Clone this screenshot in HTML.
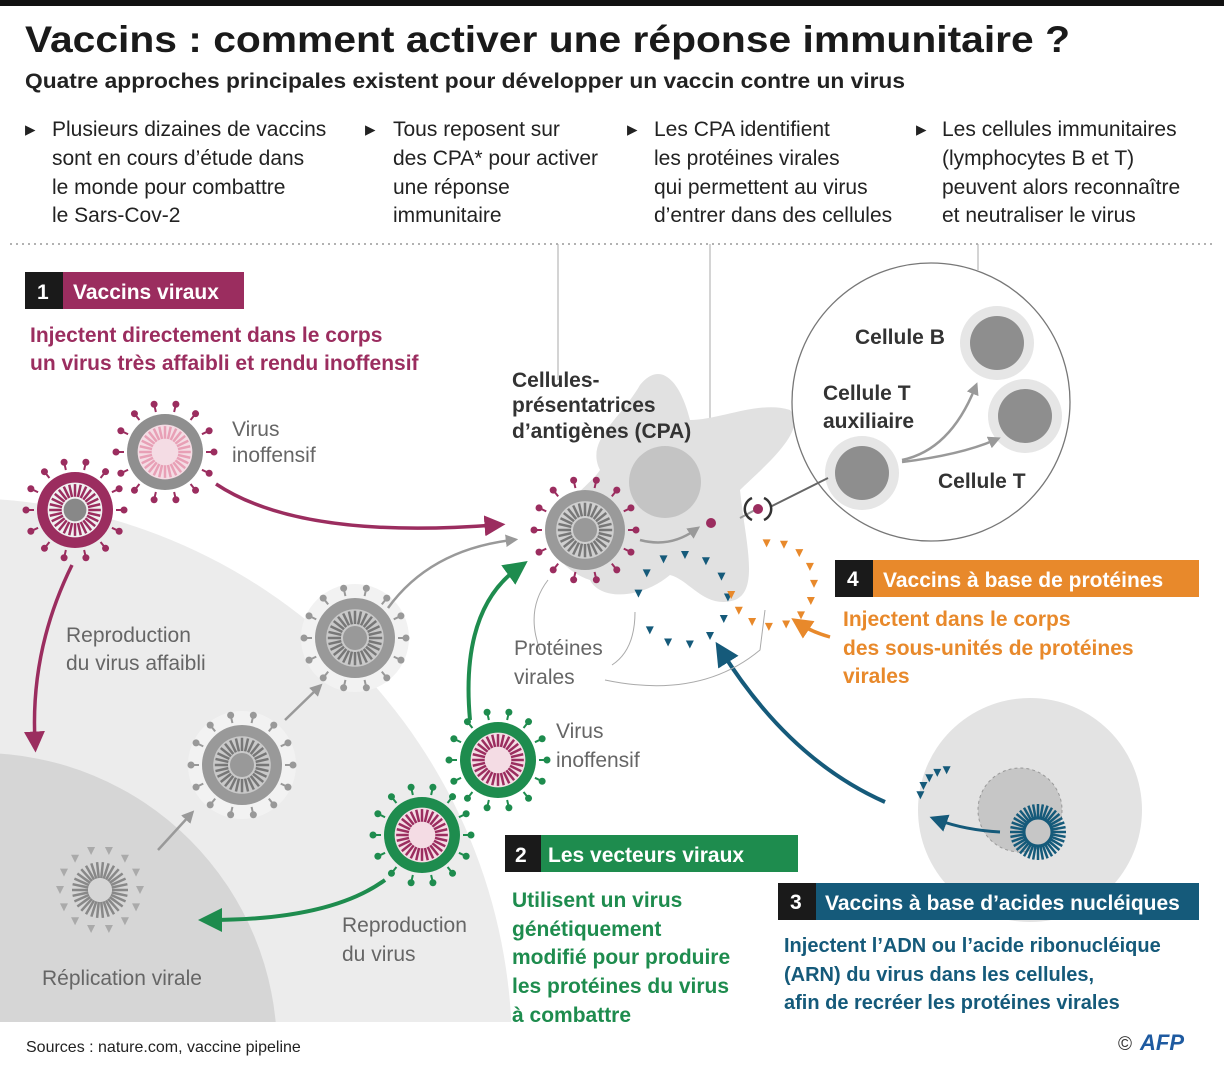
<!DOCTYPE html>
<html><head><meta charset="utf-8"><style>
html,body{margin:0;width:1224px;height:1076px;overflow:hidden;background:#fff;font-family:"Liberation Sans",sans-serif;}
svg{position:absolute;left:0;top:0;display:block}
svg text{font-family:"Liberation Sans",sans-serif}
</style></head><body>
<svg id="s" width="1224" height="1076" viewBox="0 0 1224 1076" xmlns="http://www.w3.org/2000/svg">
<defs>
<marker id="am" markerWidth="6" markerHeight="6" refX="3" refY="3" orient="auto"><path d="M0,0 L6,3 L0,6z" fill="#9b2d5f"/></marker>
<marker id="ag" markerWidth="6" markerHeight="6" refX="3" refY="3" orient="auto"><path d="M0,0 L6,3 L0,6z" fill="#1e8c4e"/></marker>
<marker id="ab" markerWidth="6" markerHeight="6" refX="3" refY="3" orient="auto"><path d="M0,0 L6,3 L0,6z" fill="#155a7a"/></marker>
<marker id="ao" markerWidth="6" markerHeight="6" refX="3" refY="3" orient="auto"><path d="M0,0 L6,3 L0,6z" fill="#e8892b"/></marker>
<marker id="ay" markerWidth="5" markerHeight="5" refX="2.5" refY="2.5" orient="auto"><path d="M0,0 L5,2.5 L0,5z" fill="#999"/></marker>
</defs>
<rect x="0" y="0" width="1224" height="6" fill="#111"/>
<text x="25" y="52" font-size="37" font-weight="bold" fill="#1a1a1a" textLength="1045" lengthAdjust="spacingAndGlyphs">Vaccins : comment activer une réponse immunitaire ?</text>
<text x="25" y="88" font-size="21" font-weight="bold" fill="#222" textLength="880" lengthAdjust="spacingAndGlyphs">Quatre approches principales existent pour développer un vaccin contre un virus</text>
<g font-size="21" fill="#222">
<text x="25" y="136">▸</text><text x="52" y="136">Plusieurs dizaines de vaccins</text><text x="52" y="165">sont  en cours d’étude dans</text><text x="52" y="194">le monde pour combattre</text><text x="52" y="222">le Sars-Cov-2</text>
<text x="365" y="136">▸</text><text x="393" y="136">Tous reposent sur</text><text x="393" y="165">des CPA* pour activer</text><text x="393" y="194">une réponse</text><text x="393" y="222">immunitaire</text>
<text x="627" y="136">▸</text><text x="654" y="136">Les CPA identifient</text><text x="654" y="165">les protéines virales</text><text x="654" y="194">qui permettent au virus</text><text x="654" y="222">d’entrer dans des cellules</text>
<text x="916" y="136">▸</text><text x="942" y="136">Les cellules immunitaires</text><text x="942" y="165">(lymphocytes B et T)</text><text x="942" y="194">peuvent alors reconnaître</text><text x="942" y="222">et neutraliser le virus</text>
</g>
<line x1="10" y1="244" x2="1214" y2="244" stroke="#999" stroke-width="1.5" stroke-dasharray="2,4"/>
<circle cx="-40" cy="1050" r="552" fill="#ececec"/>
<circle cx="-20" cy="1050" r="297" fill="#d6d6d6"/>
<rect x="0" y="1022" width="1224" height="54" fill="#fff"/>
<line x1="558" y1="244" x2="558" y2="380" stroke="#aaa"/>
<line x1="710" y1="244" x2="710" y2="520" stroke="#aaa"/>
<line x1="978" y1="244" x2="978" y2="270" stroke="#aaa"/>
<path d="M600,470 C585,440 620,420 640,385 C660,360 680,380 690,420 C720,420 760,400 790,410 C810,430 760,470 740,490 C745,540 760,590 735,600 C705,610 690,580 670,575 C640,600 600,600 590,580 C560,570 540,540 560,520 C570,495 590,485 600,470z" fill="#e1e1e1"/>
<circle cx="665" cy="482" r="36" fill="#c4c4c4"/>
<circle cx="931" cy="402" r="139" fill="#fff" stroke="#777" stroke-width="1.3"/>
<circle cx="1030" cy="810" r="112" fill="#e3e3e3"/>
<circle cx="1020" cy="810" r="42" fill="#c6c6c6" stroke="#999" stroke-dasharray="3,3"/>
<g id="viruses"></g>
<g>
<circle cx="997" cy="343" r="37" fill="#e6e6e6"/><circle cx="997" cy="343" r="27" fill="#8e8e8e"/>
<circle cx="1025" cy="416" r="37" fill="#e6e6e6"/><circle cx="1025" cy="416" r="27" fill="#8e8e8e"/>
<circle cx="862" cy="473" r="37" fill="#e6e6e6"/><circle cx="862" cy="473" r="27" fill="#8e8e8e"/>
</g>
<path d="M902,460 Q950,450 975,388" fill="none" stroke="#999" stroke-width="2.5" marker-end="url(#ay)"/>
<path d="M902,462 Q960,455 995,440" fill="none" stroke="#999" stroke-width="2.5" marker-end="url(#ay)"/>
<line x1="770" y1="507" x2="828" y2="478" stroke="#666" stroke-width="2"/>
<line x1="740" y1="518" x2="755" y2="510" stroke="#999" stroke-width="2"/>
<path d="M752,498 a12,12 0 0 0 0,22 M764,498 a12,12 0 0 1 0,22" fill="none" stroke="#333" stroke-width="2.5"/>
<circle cx="758" cy="509" r="5" fill="#9b2d5f"/>
<circle cx="711" cy="523" r="5" fill="#9b2d5f"/>
<path d="M640,540 Q670,548 695,530" fill="none" stroke="#999" stroke-width="2.5" marker-end="url(#ay)"/>
<g font-size="21" font-weight="bold" fill="#333">
<text x="512" y="387">Cellules-</text><text x="512" y="412">présentatrices</text><text x="512" y="438">d’antigènes (CPA)</text>
<text x="855" y="344">Cellule B</text>
<text x="823" y="400">Cellule T</text><text x="823" y="428">auxiliaire</text>
<text x="938" y="488">Cellule T</text>
</g>
<path d="M216,484 Q300,540 495,525" fill="none" stroke="#9b2d5f" stroke-width="3.5" marker-end="url(#am)"/>
<path d="M72,565 Q30,650 35,742" fill="none" stroke="#9b2d5f" stroke-width="3.5" marker-end="url(#am)"/>
<path d="M388,608 Q430,550 512,540" fill="none" stroke="#999" stroke-width="2.5" marker-end="url(#ay)"/>
<line x1="285" y1="720" x2="318" y2="688" stroke="#999" stroke-width="2.5" marker-end="url(#ay)"/>
<line x1="158" y1="850" x2="190" y2="815" stroke="#999" stroke-width="2.5" marker-end="url(#ay)"/>
<path d="M470,720 Q460,610 518,568" fill="none" stroke="#1e8c4e" stroke-width="4" marker-end="url(#ag)"/>
<path d="M385,880 Q330,920 210,920" fill="none" stroke="#1e8c4e" stroke-width="4" marker-end="url(#ag)"/>
<path d="M885,802 Q790,760 722,652" fill="none" stroke="#155a7a" stroke-width="4" marker-end="url(#ab)"/>
<path d="M1000,832 Q965,830 938,820" fill="none" stroke="#155a7a" stroke-width="3" marker-end="url(#ab)"/>
<path d="M830,637 Q812,632 800,624" fill="none" stroke="#e8892b" stroke-width="3.5" marker-end="url(#ao)"/>
<path d="M548,580 Q525,610 540,650" fill="none" stroke="#aaa"/>
<path d="M635,612 Q635,650 612,665 M605,680 Q700,700 760,650 L765,610" fill="none" stroke="#aaa"/>
<g font-size="21" fill="#666">
<text x="232" y="436">Virus</text><text x="232" y="462">inoffensif</text>
<text x="66" y="642">Reproduction</text><text x="66" y="670">du virus affaibli</text>
<text x="514" y="655">Protéines</text><text x="514" y="684">virales</text>
<text x="556" y="738">Virus</text><text x="556" y="767">inoffensif</text>
<text x="342" y="932">Reproduction</text><text x="342" y="961">du virus</text>
<text x="42" y="985">Réplication virale</text>
</g>
<rect x="25" y="272" width="38" height="37" fill="#1a1a1a"/><text x="37" y="299" fill="#fff" font-size="21" font-weight="bold">1</text>
<rect x="63" y="272" width="181" height="37" fill="#9b2d5f"/><text x="73" y="299" fill="#fff" font-size="21" font-weight="bold">Vaccins viraux</text>
<g font-size="21" font-weight="bold" fill="#9b2d5f"><text x="30" y="342">Injectent directement dans le corps</text><text x="30" y="370">un virus très affaibli et rendu inoffensif</text></g>
<rect x="835" y="560" width="38" height="37" fill="#1a1a1a"/><text x="847" y="586" fill="#fff" font-size="21" font-weight="bold">4</text>
<rect x="873" y="560" width="326" height="37" fill="#e8892b"/><text x="883" y="587" fill="#fff" font-size="21" font-weight="bold">Vaccins à base de protéines</text>
<g font-size="21" font-weight="bold" fill="#e8892b"><text x="843" y="626">Injectent dans le corps</text><text x="843" y="655">des sous-unités de protéines</text><text x="843" y="683">virales</text></g>
<rect x="505" y="835" width="36" height="37" fill="#1a1a1a"/><text x="515" y="862" fill="#fff" font-size="21" font-weight="bold">2</text>
<rect x="541" y="835" width="257" height="37" fill="#1e8c4e"/><text x="548" y="862" fill="#fff" font-size="21" font-weight="bold">Les vecteurs viraux</text>
<g font-size="21" font-weight="bold" fill="#1e8c4e"><text x="512" y="907">Utilisent un virus</text><text x="512" y="936">génétiquement</text><text x="512" y="964">modifié pour produire</text><text x="512" y="993">les protéines du virus</text><text x="512" y="1022">à combattre</text></g>
<rect x="778" y="883" width="38" height="37" fill="#1a1a1a"/><text x="790" y="909" fill="#fff" font-size="21" font-weight="bold">3</text>
<rect x="816" y="883" width="383" height="37" fill="#155a7a"/><text x="825" y="910" fill="#fff" font-size="21" font-weight="bold">Vaccins à base d’acides nucléiques</text>
<g font-size="20" font-weight="bold" fill="#155a7a"><text x="784" y="952">Injectent l’ADN ou l’acide ribonucléique</text><text x="784" y="981">(ARN) du virus dans les cellules,</text><text x="784" y="1009">afin de recréer les protéines virales</text></g>
<text x="26" y="1052" font-size="16" fill="#222">Sources : nature.com, vaccine pipeline</text>
<text x="1118" y="1050" font-size="19" fill="#333">©</text>
<text x="1140" y="1050" font-size="22" font-weight="bold" font-style="italic" fill="#1e5aa0">AFP</text>
</svg>
<script>
var g=document.getElementById('viruses'),h='';
function virus(cx,cy,r,ring,inner,spike,halo,spk){
 if(halo)h+='<circle cx="'+cx+'" cy="'+cy+'" r="'+(r+14)+'" fill="#f2f2f2"/>';
 var n=spk===undefined?14:spk;
 for(var i=0;i<n;i++){var a=i/n*6.283,x=cx+Math.cos(a)*(r+3),y=cy+Math.sin(a)*(r+3),x2=cx+Math.cos(a)*(r+11),y2=cy+Math.sin(a)*(r+11);
  h+='<line x1="'+x+'" y1="'+y+'" x2="'+x2+'" y2="'+y2+'" stroke="'+spike+'" stroke-width="2"/><circle cx="'+x2+'" cy="'+y2+'" r="3.5" fill="'+spike+'"/>';}
 if(ring)h+='<circle cx="'+cx+'" cy="'+cy+'" r="'+r+'" fill="'+ring+'"/>';
 h+='<circle cx="'+cx+'" cy="'+cy+'" r="'+(r*0.72)+'" fill="'+(inner[0])+'"/>';
 for(i=0;i<28;i++){a=i/28*6.283;h+='<line x1="'+(cx+Math.cos(a)*r*0.35)+'" y1="'+(cy+Math.sin(a)*r*0.35)+'" x2="'+(cx+Math.cos(a)*r*0.68)+'" y2="'+(cy+Math.sin(a)*r*0.68)+'" stroke="'+inner[1]+'" stroke-width="2.5"/>';}
 h+='<circle cx="'+cx+'" cy="'+cy+'" r="'+(r*0.3)+'" fill="'+inner[2]+'"/>';
}
virus(165,452,38,'#8f8f8f',['#f4dce4','#e8a0b6','#f4dce4'],'#9b2d5f');
virus(75,510,38,'#9b2d5f',['#f0f0f0','#9b2d5f','#888'],'#9b2d5f');
virus(355,638,40,'#999',['#c9c9c9','#777','#999'],'#999',1);
virus(242,765,40,'#999',['#c9c9c9','#777','#999'],'#999',1);
virus(498,760,38,'#1e8c4e',['#f4dce4','#9b2d5f','#f4dce4'],'#1e8c4e');
virus(422,835,38,'#1e8c4e',['#f4dce4','#9b2d5f','#f4dce4'],'#1e8c4e');
virus(585,530,40,'#9a9a9a',['#cfcfcf','#777','#999'],'#9b2d5f');
(function(){var cx=100,cy=890,i,a;
 for(i=0;i<14;i++){a=i/14*6.283;var x=cx+Math.cos(a)*40,y=cy+Math.sin(a)*40;h+='<path d="M'+(x-4)+','+(y-4)+' l8,0 l-4,8z" fill="#aaa"/>';}
 for(i=0;i<30;i++){a=i/30*6.283;h+='<line x1="'+(cx+Math.cos(a)*12)+'" y1="'+(cy+Math.sin(a)*12)+'" x2="'+(cx+Math.cos(a)*28)+'" y2="'+(cy+Math.sin(a)*28)+'" stroke="#888" stroke-width="2.5"/>';}
})();
(function(){var cx=1038,cy=832,i,a;
 for(i=0;i<36;i++){a=i/36*6.283;h+='<line x1="'+(cx+Math.cos(a)*14)+'" y1="'+(cy+Math.sin(a)*14)+'" x2="'+(cx+Math.cos(a)*28)+'" y2="'+(cy+Math.sin(a)*28)+'" stroke="#155a7a" stroke-width="2.5"/>';}
 h+='<circle cx="'+cx+'" cy="'+cy+'" r="14" fill="none" stroke="#155a7a" stroke-width="3"/>';
})();
function tri(cx,cy,r,n,c,a0,a1){for(var i=0;i<n;i++){var a=a0+(a1-a0)*i/(n-1),x=cx+Math.cos(a)*r,y=cy+Math.sin(a)*r;h+='<path d="M'+(x-4)+','+(y-4)+' l8,0 l-4,8z" fill="'+c+'"/>';}}
tri(683,600,45,12,'#155a7a',-3.0,2.4);
tri(772,585,42,12,'#e8892b',-1.7,2.9);
tri(950,800,30,5,'#155a7a',3.3,4.6);
g.innerHTML=h;
</script>
</body></html>
